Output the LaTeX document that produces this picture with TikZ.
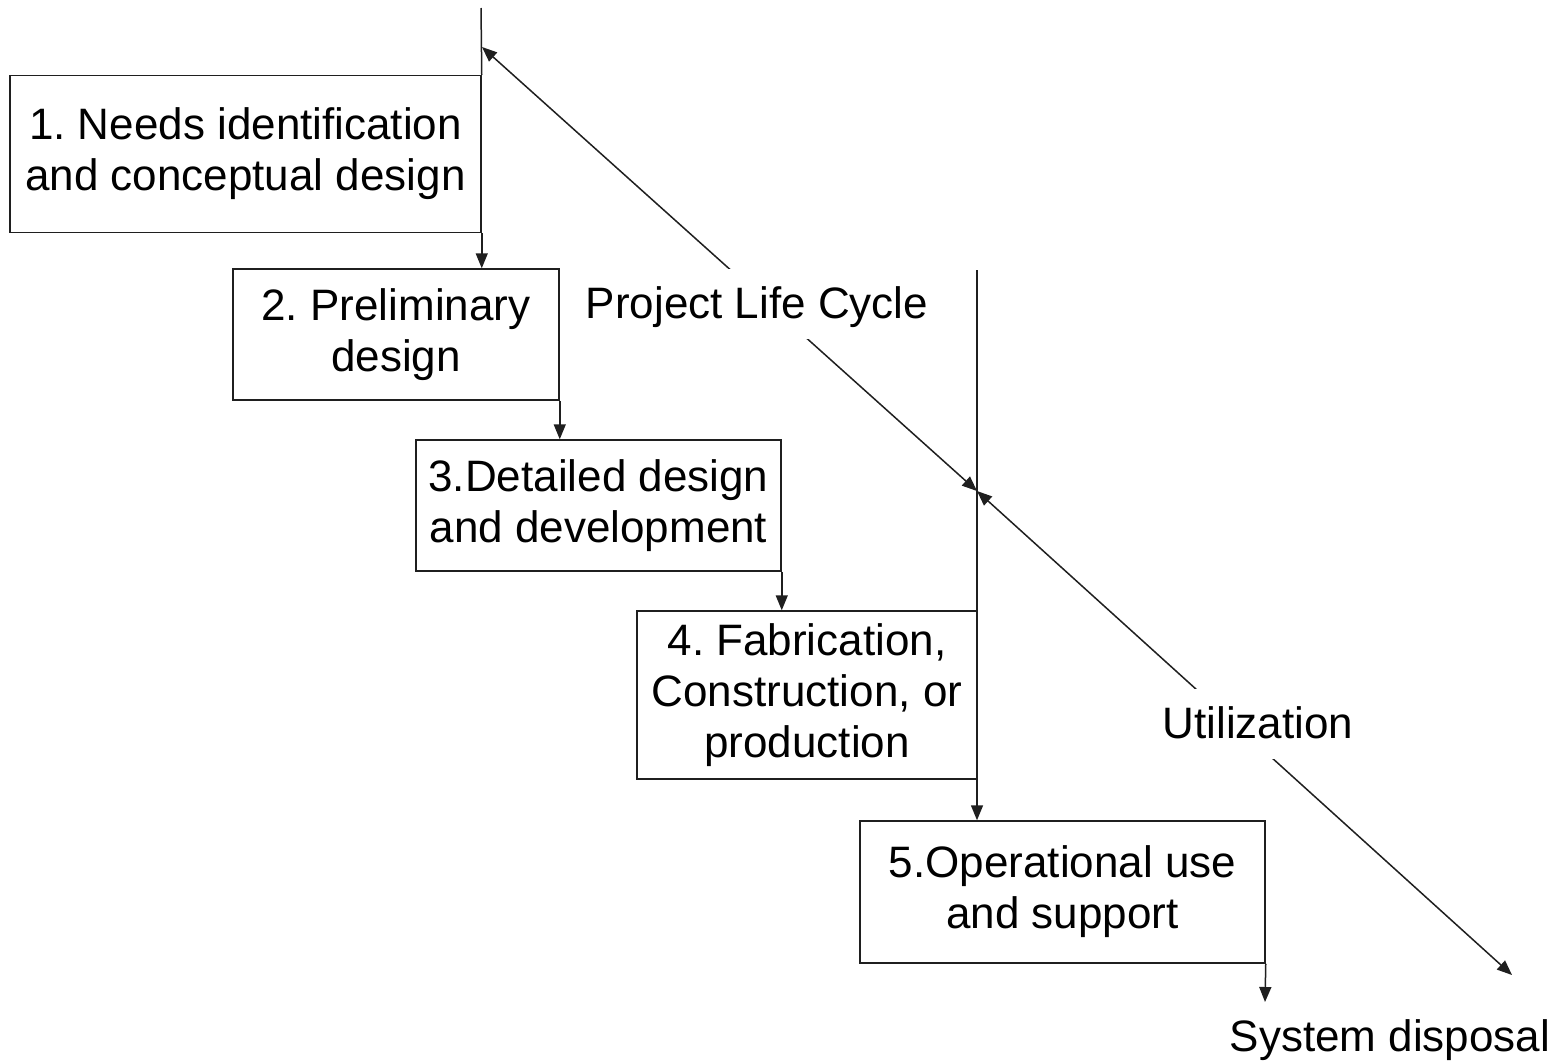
\documentclass[tikz,border=0pt]{standalone}
\usepackage{fontspec}
\setmainfont{Liberation Sans}
\usetikzlibrary{arrows.meta}
\frenchspacing
\begin{document}
\begin{tikzpicture}[x=1pt,y=-1pt,
  box/.style={draw=black!88, line width=1.5pt, inner sep=0pt, align=center,
    font=\fontsize{44}{51}\selectfont},
  arr/.style={line width=1.5pt, draw=black!88, -{Triangle[length=15pt,width=12pt]}},
  darr/.style={line width=1.5pt, draw=black!88, {Triangle[length=15pt,width=12pt]}-{Triangle[length=15pt,width=12pt]}},
  plain/.style={line width=1.5pt, draw=black!88},
  lab/.style={fill=white, inner xsep=0pt, inner ysep=14pt, text height=35pt, text depth=7pt,
    anchor=base, font=\fontsize{44}{51}\selectfont},
  txt/.style={inner sep=0pt, anchor=base, font=\fontsize{44}{51}\selectfont}]
\useasboundingbox (0,0) rectangle (1554,1061);
\fill[white] (0,0) rectangle (1554,1061);

\node[box, minimum width=471pt, minimum height=157pt] (b1) at (245.5,154)
  {1. Needs identification\\and conceptual design};
\node[box, minimum width=326pt, minimum height=131pt] (b2) at (396,334.5)
  {2. Preliminary\\design};
\node[box, minimum width=365pt, minimum height=131pt] (b3) at (598.5,505.5)
  {3.Detailed design\\and development};
\node[box, minimum width=340pt, minimum height=168pt] (b4) at (807,695)
  {4. Fabrication,\\Construction, or\\production};
\node[box, minimum width=405pt, minimum height=142pt] (b5) at (1062.5,892)
  {5.Operational use\\and support};

\coordinate (top) at (481,8);
\coordinate (v4) at (977,270);
\coordinate (end5) at (1265,1002);
\coordinate (d1) at (482,47);
\coordinate (dm) at (977,491);
\coordinate (d2) at (1512,975);

\draw[plain] (top) -- (b1.north east);
\draw[arr] (b1.south east) -- (b1.south east |- b2.north);
\draw[arr] (b2.south east) -- (b2.south east |- b3.north);
\draw[arr] (b3.south east) -- (b3.south east |- b4.north);
\draw[arr] (v4) -- (v4 |- b5.north);
\draw[arr] (b5.south east) -- (end5);

\draw[darr] (d1) -- (dm);
\draw[darr] (dm) -- (d2);

\node[lab] (plc) at (757,318) {Project Life Cycle};
\node[lab] (util) at (1258,738) {Utilization};
\node[txt] (disp) at (1390,1051) {System disposal};
\end{tikzpicture}
\end{document}
